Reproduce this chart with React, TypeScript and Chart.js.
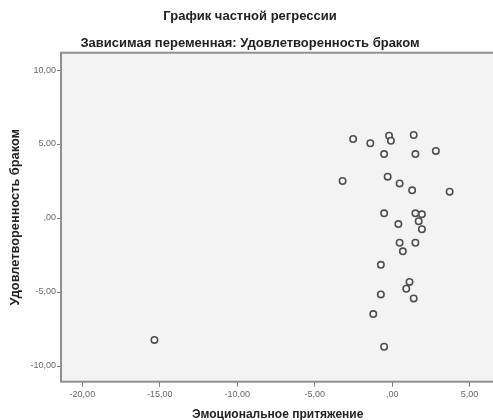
import React, { useEffect, useRef } from "react";
import { Chart, registerables } from "chart.js";

Chart.register(...registerables);

const chartTitle = "График частной регрессии";
const chartSubtitle = "Зависимая переменная: Удовлетворенность браком";
const xAxisTitle = "Эмоциональное притяжение";
const yAxisTitle = "Удовлетворенность браком";

const xValues = [
  -2.52, -1.41, -0.2, -0.08, 1.39, -0.52, 1.5, 2.82, -3.2, -0.29,
  0.48, 1.29, 3.71, -0.52, 1.5, 1.92, 1.71, 0.4, 1.92, 0.48,
  1.5, 0.69, -0.73, 1.12, 0.91, 1.39, -0.73, -1.22, -0.52, -15.35,
];
const yValues = [
  5.34, 5.05, 5.56, 5.22, 5.61, 4.32, 4.32, 4.53, 2.5, 2.79,
  2.34, 1.87, 1.78, 0.32, 0.32, 0.25, -0.22, -0.41, -0.76, -1.67,
  -1.67, -2.25, -3.16, -4.32, -4.78, -5.43, -5.16, -6.49, -8.7, -8.24,
];

const xTicks = [-20, -15, -10, -5, 0, 5];
const yTicks = [-10, -5, 0, 5, 10];

const fmt = (v: number) => {
  if (Math.abs(v) < 1e-9) return ",00";
  return v.toFixed(2).replace(".", ",");
};

const FONT = "Arial, 'Liberation Sans', sans-serif";

const frame = {
  id: "frame",
  beforeDatasetsDraw(chart: any) {
    const { ctx, chartArea: a } = chart;
    ctx.save();
    ctx.fillStyle = "#f3f3f3";
    ctx.fillRect(a.left, a.top, a.right - a.left, a.bottom - a.top);
    ctx.strokeStyle = "#8f8f8f";
    ctx.lineWidth = 2;
    ctx.strokeRect(a.left, a.top, a.right - a.left, a.bottom - a.top);
    ctx.restore();
  },
};

export default function App() {
  const ref = useRef<HTMLCanvasElement | null>(null);
  useEffect(() => {
    if (!ref.current) return;
    const data = xValues.map((x, i) => ({ x, y: yValues[i] }));
    const chart = new Chart(ref.current, {
      type: "scatter",
      data: {
        datasets: [
          {
            data,
            pointRadius: 3.2,
            pointBorderWidth: 1.6,
            pointBorderColor: "#4f4f4f",
            pointBackgroundColor: "rgba(250,250,250,0.9)",
          },
        ],
      },
      options: {
        animation: false,
        responsive: false,
        devicePixelRatio: 1,
        layout: { padding: { left: 0, right: 0, top: 0, bottom: 0 } },
        plugins: {
          legend: { display: false },
          tooltip: { enabled: false },
          title: {
            display: true,
            text: chartTitle,
            color: "#222",
            font: { family: FONT, size: 13, weight: "bold", lineHeight: 1.2 },
            padding: { top: 8.2, bottom: 6 },
          },
          subtitle: {
            display: true,
            text: chartSubtitle,
            color: "#222",
            font: { family: FONT, size: 13, weight: "bold", lineHeight: 1.2 },
            padding: { top: 5.4, bottom: 1.9 },
          },
        },
        scales: {
          x: {
            type: "linear",
            min: -21.38,
            max: 6.6,
            afterBuildTicks: (s: any) => {
              s.ticks = xTicks.map((v) => ({ value: v }));
            },
            afterFit: (s: any) => {
              s.height = 38.3;
            },
            border: { display: false },
            grid: {
              drawOnChartArea: false,
              drawTicks: true,
              tickLength: 5,
              color: "#7a7a7a",
              lineWidth: 1,
            },
            ticks: {
              callback: (v: any) => fmt(Number(v)),
              color: "#666",
              font: { family: FONT, size: 9 },
              padding: 2.5,
              maxRotation: 0,
            },
            title: {
              display: true,
              text: xAxisTitle,
              color: "#222",
              font: { family: FONT, size: 12, weight: "bold", lineHeight: 1.2 },
              padding: { top: 4, bottom: -1.5 },
            },
          },
          y: {
            type: "linear",
            min: -11.06,
            max: 11.17,
            afterBuildTicks: (s: any) => {
              s.ticks = yTicks.map((v) => ({ value: v }));
            },
            afterFit: (s: any) => {
              s.width = 61;
            },
            border: { display: false },
            grid: {
              drawOnChartArea: false,
              drawTicks: true,
              tickLength: 4,
              color: "#7a7a7a",
              lineWidth: 1,
            },
            ticks: {
              callback: (v: any) => fmt(Number(v)),
              color: "#666",
              font: { family: FONT, size: 9 },
              padding: 1,
            },
            title: {
              display: true,
              text: yAxisTitle,
              color: "#222",
              font: { family: FONT, size: 12.8, weight: "bold", lineHeight: 1.2 },
              padding: { top: 7.3, bottom: 0 },
            },
          },
        },
      },
      plugins: [frame],
    } as any);
    return () => chart.destroy();
  }, []);

  return (
    <div
      style={{
        position: "fixed",
        left: 0,
        top: 0,
        width: 493,
        height: 420,
        overflow: "hidden",
        background: "#fff",
      }}
    >
      <canvas ref={ref} width={500} height={420} style={{ width: 500, height: 420, display: "block" }} />
    </div>
  );
}
